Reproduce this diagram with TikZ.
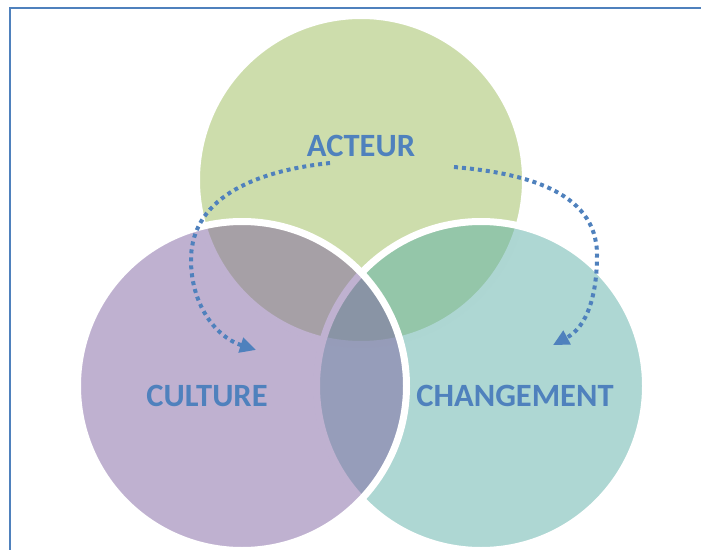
\documentclass[tikz,border=0pt]{standalone}
\usepackage{xcolor}
\usepackage{fontspec}
\usepackage{tikz}
\usetikzlibrary{positioning,arrows.meta}

\newfontfamily\vennfont{Carlito}

\definecolor{acteurgreen}{HTML}{9BBB59}
\definecolor{culturepurple}{HTML}{8064A2}
\definecolor{changeteal}{HTML}{5DAFA7}
\definecolor{labelblue}{HTML}{4F81BD}

\begin{document}
\begin{tikzpicture}[
    x=1pt, y=1pt,
    vennset/.style={circle, draw=white, line width=7pt, fill opacity=0.5, minimum size=329pt, inner sep=0pt},
    vennlabel/.style={text=labelblue, font=\vennfont\bfseries\fontsize{32.5}{38}\selectfont, inner sep=0pt},
    flowarrow/.style={draw=labelblue, line width=4pt, dash pattern=on 4pt off 4pt, -{Triangle[length=16pt, width=15pt]}}
    ]
        \useasboundingbox (0,0) rectangle (701,550);

        %Frame
        \draw[labelblue, line width=2pt] (701,542) -- (10,542) -- (10,0);

        %Circles
        \node[vennset, fill=acteurgreen]    (acteur)     at (361,370) {};
        \node[vennset, fill=changeteal]     (changement) at (481,164) {};
        \node[vennset, fill=culturepurple]  (culture)    at (242,164) {};

        %Labels
        \node[vennlabel] (acteurtext)     at (361,404) {ACTEUR};
        \node[vennlabel] (culturetext)    at (207,154) {CULTURE};
        \node[vennlabel] (changementtext) at (515,154) {CHANGEMENT};

        %Arrow ends
        \coordinate (leftstart)  at (330,387);
        \coordinate (leftbend)   at (191,290);
        \coordinate (leftend)    at (256,200);
        \coordinate (rightstart) at (454,383);
        \coordinate (rightbend)  at (597,295);
        \coordinate (rightend)   at (553,205);

        %Lines
        \draw[flowarrow]
            (leftstart) to[out=186, in=90] (leftbend) to[out=270, in=162] (leftend);
        \draw[flowarrow]
            (rightstart) to[out=-5, in=90] (rightbend) to[out=270, in=28] (rightend);
    \end{tikzpicture}
\end{document}
